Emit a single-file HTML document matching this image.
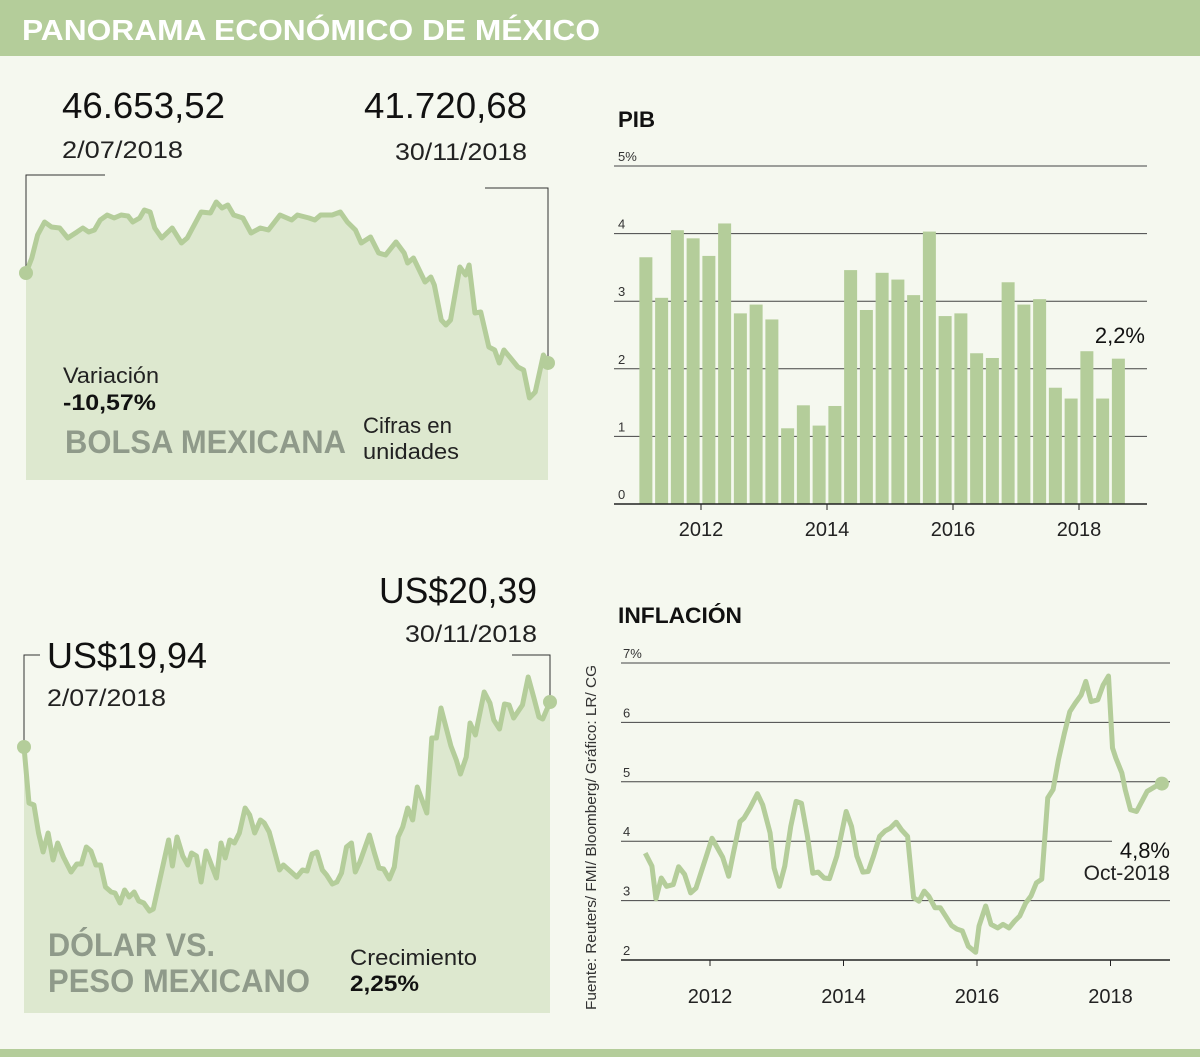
<!DOCTYPE html>
<html><head><meta charset="utf-8">
<style>
html,body{margin:0;padding:0;background:#f5f8ef;}
svg{display:block;font-family:"Liberation Sans",sans-serif;}
</style></head>
<body>
<svg id="chart" width="1200" height="1057" viewBox="0 0 1200 1057">
  <rect x="0" y="0" width="1200" height="1057" fill="#f5f8ef"/>
  <rect x="0" y="0" width="1200" height="56" fill="#b4cd9a"/>
  <text x="22" y="40" fill="#ffffff" font-size="29" font-weight="bold" textLength="578" lengthAdjust="spacingAndGlyphs">PANORAMA ECONÓMICO DE MÉXICO</text>
  <rect x="0" y="1049" width="1200" height="8" fill="#b4cd9a"/>

  <g id="bolsa"></g>
  <g id="dolar"></g>
  <g id="pib"></g>
  <g id="infl"></g>

  <!-- bolsa texts -->
  <text x="62" y="118" font-size="36" fill="#111" textLength="163" lengthAdjust="spacingAndGlyphs">46.653,52</text>
  <text x="62" y="158" font-size="24" fill="#222" textLength="121" lengthAdjust="spacingAndGlyphs">2/07/2018</text>
  <text x="527" y="118" font-size="36" fill="#111" text-anchor="end" textLength="163" lengthAdjust="spacingAndGlyphs">41.720,68</text>
  <text x="527" y="160" font-size="24" fill="#222" text-anchor="end" textLength="132" lengthAdjust="spacingAndGlyphs">30/11/2018</text>
  <text x="63" y="383" font-size="22" fill="#222" textLength="96" lengthAdjust="spacingAndGlyphs">Variación</text>
  <text x="63" y="410" font-size="22" font-weight="bold" fill="#111" textLength="93" lengthAdjust="spacingAndGlyphs">-10,57%</text>
  <text x="65" y="453" font-size="32" font-weight="bold" fill="#8f9a8a" textLength="281" lengthAdjust="spacingAndGlyphs">BOLSA MEXICANA</text>
  <text x="363" y="433" font-size="22" fill="#222" textLength="89" lengthAdjust="spacingAndGlyphs">Cifras en</text>
  <text x="363" y="459" font-size="22" fill="#222" textLength="96" lengthAdjust="spacingAndGlyphs">unidades</text>

  <!-- dolar texts -->
  <text x="47" y="668" font-size="36" fill="#111" textLength="160" lengthAdjust="spacingAndGlyphs">US$19,94</text>
  <text x="47" y="706" font-size="24" fill="#222" textLength="119" lengthAdjust="spacingAndGlyphs">2/07/2018</text>
  <text x="537" y="603" font-size="36" fill="#111" text-anchor="end" textLength="158" lengthAdjust="spacingAndGlyphs">US$20,39</text>
  <text x="537" y="642" font-size="24" fill="#222" text-anchor="end" textLength="132" lengthAdjust="spacingAndGlyphs">30/11/2018</text>
  <text x="48" y="956" font-size="32" font-weight="bold" fill="#8f9a8a" textLength="167" lengthAdjust="spacingAndGlyphs">DÓLAR VS.</text>
  <text x="48" y="992" font-size="32" font-weight="bold" fill="#8f9a8a" textLength="262" lengthAdjust="spacingAndGlyphs">PESO MEXICANO</text>
  <text x="350" y="965" font-size="22" fill="#222" textLength="127" lengthAdjust="spacingAndGlyphs">Crecimiento</text>
  <text x="350" y="991" font-size="22" font-weight="bold" fill="#111" textLength="69" lengthAdjust="spacingAndGlyphs">2,25%</text>

  <text x="618" y="127" font-size="22" font-weight="bold" fill="#111" textLength="37" lengthAdjust="spacingAndGlyphs">PIB</text>
  <text x="618" y="623" font-size="22" font-weight="bold" fill="#111" textLength="124" lengthAdjust="spacingAndGlyphs">INFLACIÓN</text>
  <text transform="translate(596,1010) rotate(-90)" font-size="15" fill="#333" textLength="345" lengthAdjust="spacingAndGlyphs">Fuente: Reuters/ FMI/ Bloomberg/ Gráfico: LR/ CG</text>
</svg>
<script>
// ---- Bolsa data ----
const bolsaDays = [26,31,36,42,48,55,62,70,75,80,85,90,96,102,108,114,118,124,128,133,137,143,152,160,165,177,185,190,195,200,205,213,220,228,235,245,255,260,270,275,280,290,297,303,310,315,323,330,336,345,352,355,360,370,375,378,384,388,392,400,405,408,413,418,425,430,434,438,443,450,455,460,465,472,476];
const bolsaValues = [46654,47476,48736,49449,49175,49120,48572,48901,49120,48901,49010,49558,49832,49668,49832,49777,49449,49668,50106,49997,49120,48572,49120,48298,48572,49997,49942,50545,50216,50380,49832,49668,48846,49120,49010,49832,49558,49832,49668,49558,49832,49832,49997,49449,49010,48298,48627,47750,47640,48353,47750,47202,47476,46161,46435,45996,44078,43804,44078,46983,46544,47092,44462,44517,42599,42434,41722,42434,42051,41502,41338,39804,40133,42160,41722];
// ---- Dolar data ----
const dolarDays = [62,75,88,100,112,125,138,150,165,185,200,212,225,237,250,262,275,290,300,313,325,337,350,362,375,390,400,440,450,462,477,490,500,513,525,538,565,577,588,600,612,625,640,652,665,680,690,703,718,730,740,775,790,802,815,828,842,853,868,880,892,905,918,928,940,965,978,990,1002,1017,1030,1040,1052,1065,1078,1090,1115,1128,1140,1152,1165,1178,1192,1203,1218,1228,1242,1265,1280,1290,1305,1318,1330,1342,1365,1380,1395,1408,1418,1437];
const dolarValues = [19.94,19.38,19.36,19.08,18.89,19.08,18.81,18.98,18.84,18.69,18.77,18.77,18.94,18.90,18.76,18.76,18.54,18.49,18.48,18.38,18.51,18.44,18.49,18.40,18.38,18.30,18.32,19.01,18.75,19.04,18.85,18.76,18.88,18.85,18.59,18.90,18.63,18.98,18.83,19.01,18.98,19.08,19.33,19.26,19.08,19.21,19.18,19.09,18.88,18.71,18.76,18.64,18.71,18.70,18.87,18.89,18.71,18.66,18.57,18.59,18.68,18.94,18.98,18.69,18.79,19.06,18.88,18.73,18.72,18.62,18.74,19.04,19.14,19.33,19.21,19.54,19.28,20.03,20.03,20.33,20.14,19.95,19.81,19.67,19.84,20.18,20.06,20.49,20.38,20.21,20.12,20.37,20.36,20.23,20.36,20.64,20.43,20.24,20.22,20.39];
// ---- PIB data ----
const pibValues = [3.65,3.05,4.05,3.93,3.67,4.15,2.82,2.95,2.73,1.12,1.46,1.16,1.45,3.46,2.87,3.42,3.32,3.09,4.03,2.78,2.82,2.23,2.16,3.28,2.95,3.03,1.72,1.56,2.26,1.56,2.15];
const pibTicks = ["0","1","2","3","4","5%"];
const pibYears = [2012,2014,2016,2018];
// ---- Inflation data ----
const inflTimes = [2011.03,2011.13,2011.19,2011.27,2011.35,2011.45,2011.53,2011.62,2011.71,2011.79,2011.96,2012.03,2012.11,2012.19,2012.28,2012.35,2012.45,2012.51,2012.60,2012.71,2012.79,2012.90,2012.96,2013.04,2013.12,2013.21,2013.29,2013.37,2013.46,2013.54,2013.62,2013.71,2013.79,2013.90,2014.04,2014.12,2014.20,2014.29,2014.37,2014.45,2014.54,2014.62,2014.70,2014.79,2014.87,2014.96,2015.05,2015.13,2015.21,2015.28,2015.37,2015.45,2015.53,2015.62,2015.70,2015.78,2015.87,2015.98,2016.03,2016.13,2016.21,2016.31,2016.39,2016.48,2016.56,2016.64,2016.73,2016.81,2016.89,2016.97,2017.06,2017.14,2017.22,2017.31,2017.39,2017.47,2017.56,2017.63,2017.71,2017.81,2017.89,2017.97,2018.03,2018.08,2018.17,2018.22,2018.30,2018.39,2018.47,2018.55,2018.67,2018.77];
const inflValues = [3.80,3.58,3.03,3.38,3.24,3.27,3.57,3.44,3.13,3.21,3.80,4.05,3.89,3.73,3.41,3.80,4.33,4.39,4.56,4.80,4.61,4.14,3.55,3.24,3.58,4.25,4.67,4.64,4.08,3.46,3.48,3.38,3.37,3.75,4.50,4.25,3.75,3.48,3.49,3.75,4.08,4.17,4.22,4.32,4.19,4.08,3.05,2.99,3.16,3.07,2.88,2.88,2.74,2.58,2.52,2.49,2.23,2.13,2.57,2.91,2.60,2.54,2.60,2.54,2.65,2.74,2.96,3.08,3.30,3.36,4.73,4.87,5.37,5.82,6.18,6.32,6.46,6.69,6.35,6.38,6.63,6.78,5.57,5.40,5.15,4.87,4.53,4.50,4.67,4.84,4.92,4.97];
const inflTicks = ["2","3","4","5","6","7%"];
const inflYears = [2012,2014,2016,2018];

const NS = "http://www.w3.org/2000/svg";
const LINE = "#b4cd9a", FILL = "#dde8cf";
function mk(parent, tag, attrs){
  const e = document.createElementNS(NS, tag);
  for (const k in attrs) e.setAttribute(k, attrs[k]);
  parent.appendChild(e); return e;
}
function lin(d0,d1,r0,r1){ return v => r0 + (v-d0)*(r1-r0)/(d1-d0); }

// Bolsa
(function(){
  const g = document.getElementById('bolsa');
  const x = lin(26,476,26,548), y = lin(46653.52,41720.68,273,363);
  const pts = bolsaDays.map((d,i)=>[x(d), y(bolsaValues[i])]);
  const area = mk(g,'path',{d:'M'+pts[0][0]+',480 L'+pts.map(p=>p.join(',')).join(' L')+' L'+pts[pts.length-1][0]+',480 Z', fill:FILL});
  
  
  const first=pts[0], last=pts[pts.length-1];
  const l1 = mk(g,'polyline',{points:`${first[0]},${first[1]} ${first[0]},175 105,175`, fill:'none', stroke:'#333', 'stroke-width':1});
  
  
  const l2 = mk(g,'polyline',{points:`${last[0]},${last[1]} ${last[0]},188 485,188`, fill:'none', stroke:'#333', 'stroke-width':1});
  
  
  const ln = mk(g,'polyline',{points:pts.map(p=>p.join(',')).join(' '), fill:'none', stroke:LINE, 'stroke-width':5, 'stroke-linejoin':'round'});
  
  
  [first,last].forEach((p,i)=>{
    const c = mk(g,'circle',{cx:p[0], cy:p[1], r:7, fill:LINE});
    
    
  });
})();

// Dolar
(function(){
  const g = document.getElementById('dolar');
  const x = lin(62,1437,24,550), y = lin(19.94,20.39,747,702);
  const pts = dolarDays.map((d,i)=>[x(d), y(dolarValues[i])]);
  const area = mk(g,'path',{d:'M'+pts[0][0]+',1013 L'+pts.map(p=>p.join(',')).join(' L')+' L'+pts[pts.length-1][0]+',1013 Z', fill:FILL});
  
  
  const first=pts[0], last=pts[pts.length-1];
  const l1 = mk(g,'polyline',{points:`${first[0]},${first[1]} ${first[0]},655 40,655`, fill:'none', stroke:'#333', 'stroke-width':1});
  
  
  const l2 = mk(g,'polyline',{points:`${last[0]},${last[1]} ${last[0]},655 512,655`, fill:'none', stroke:'#333', 'stroke-width':1});
  
  
  const ln = mk(g,'polyline',{points:pts.map(p=>p.join(',')).join(' '), fill:'none', stroke:LINE, 'stroke-width':5, 'stroke-linejoin':'round'});
  
  
  [first,last].forEach((p,i)=>{
    const c = mk(g,'circle',{cx:p[0], cy:p[1], r:7, fill:LINE});
    
    
  });
})();

// PIB
(function(){
  const g = document.getElementById('pib');
  const y = lin(0,5,504,166), x = lin(2012,2014,701,827);
  pibTicks.forEach((t,i)=>{
    if(i>0){
      const gl = mk(g,'line',{x1:614,x2:1147,y1:y(i),y2:y(i),stroke:'#444','stroke-width':1});
      
      
    }
    const tx = mk(g,'text',{x:618,y:y(i)-5,'font-size':13,fill:'#333'});
    tx.textContent=t;
    
    
  });
  pibValues.forEach((v,i)=>{
    const t = 2011 + i*0.25 + 0.125;
    const b = mk(g,'rect',{x:x(t)-6.5, y:y(v), width:13, height:y(0)-y(v), fill:LINE});
    
    
  });
  const ax = mk(g,'line',{x1:614,x2:1147,y1:y(0),y2:y(0),stroke:'#222','stroke-width':1.5});
  
  
  pibYears.forEach(yr=>{
    const tk = mk(g,'line',{x1:x(yr),x2:x(yr),y1:y(0),y2:y(0)+6,stroke:'#222','stroke-width':1});
    
    
    const tx = mk(g,'text',{x:x(yr),y:536,'font-size':20,fill:'#222','text-anchor':'middle'});
    tx.textContent=yr;
    
    
  });
  const lab = mk(g,'text',{x:1145,y:343,'font-size':22,fill:'#111','text-anchor':'end'});
  lab.textContent = '2,2%';
  
  
})();

// Inflation
(function(){
  const g = document.getElementById('infl');
  const y = lin(2,7,960,663), x = lin(2012,2014,710,843.5);
  inflTicks.forEach((t,i)=>{
    const v = 2+i;
    const gl = mk(g,'line',{x1:621,x2:(v===4?1112:1170),y1:y(v),y2:y(v),stroke:i===0?'#222':'#444','stroke-width':i===0?1.5:1});
    
    
    const tx = mk(g,'text',{x:623,y:y(v)-5,'font-size':13,fill:'#333'});
    tx.textContent=t;
    
    
  });
  inflYears.forEach(yr=>{
    const tk = mk(g,'line',{x1:x(yr),x2:x(yr),y1:y(2),y2:y(2)+6,stroke:'#222','stroke-width':1});
    
    
    const tx = mk(g,'text',{x:x(yr),y:1003,'font-size':20,fill:'#222','text-anchor':'middle'});
    tx.textContent=yr;
    
    
  });
  const pts = inflTimes.map((t,i)=>[x(t), y(inflValues[i])]);
  const ln = mk(g,'polyline',{points:pts.map(p=>p.join(',')).join(' '), fill:'none', stroke:LINE, 'stroke-width':5, 'stroke-linejoin':'round'});
  
  
  const last = pts[pts.length-1];
  const c = mk(g,'circle',{cx:last[0],cy:last[1],r:7,fill:LINE});
  
  
  const l1 = mk(g,'text',{x:1170,y:858,'font-size':22,fill:'#111','text-anchor':'end'});
  l1.textContent='4,8%';
  
  
  const l2 = mk(g,'text',{x:1170,y:880,'font-size':21,fill:'#222','text-anchor':'end'});
  l2.textContent='Oct-2018';
  
  
})();
</script>
</body></html>
